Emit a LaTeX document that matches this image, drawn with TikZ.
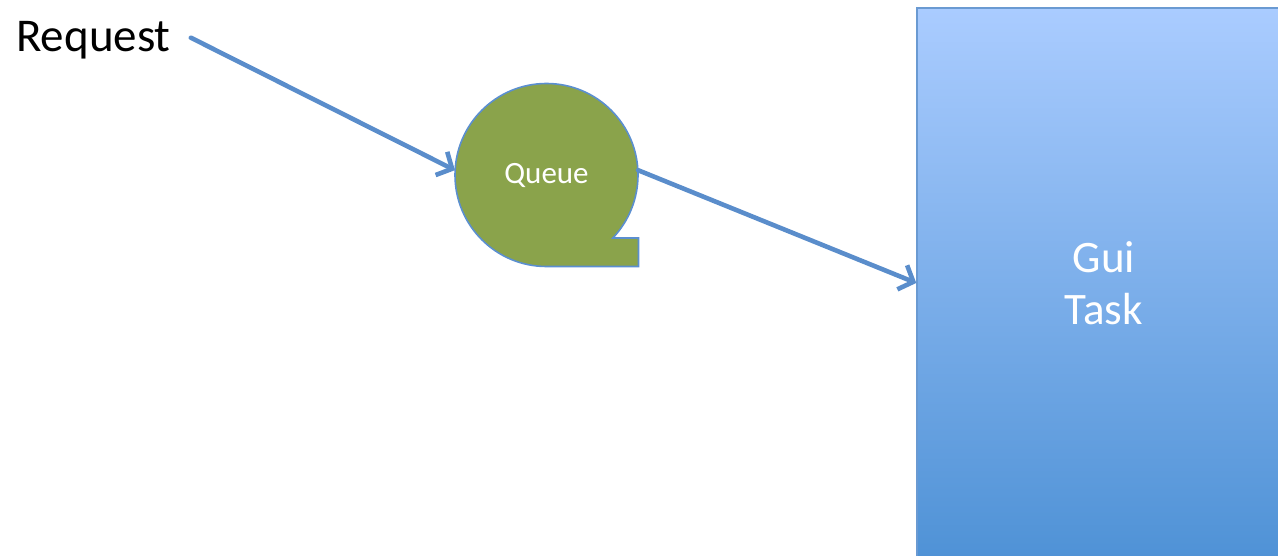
\documentclass[tikz,border=0pt]{standalone}
\usepackage{fontspec}
\setmainfont{Carlito}
\usetikzlibrary{arrows.meta}
\definecolor{conn}{HTML}{5A8DCB}
\definecolor{qfill}{HTML}{8AA34B}
\definecolor{qline}{HTML}{5B8FD0}
\definecolor{boxtop}{HTML}{AACCFF}
\definecolor{boxbot}{HTML}{4F92D6}
\definecolor{boxline}{HTML}{6A9AD2}
\tikzset{
  flowarrow/.style={draw=conn, line width=4.6pt, line cap=round,
    -{Straight Barb[length=12pt,width=26pt,line width=4.6pt]}},
  queueshape/.style={fill=qfill, draw=qline, line width=1.6pt, line join=miter},
  lbl/.style={inner sep=0pt, text=black},
}
\begin{document}
\begin{tikzpicture}[x=1pt,y=-1pt]
\useasboundingbox (0,0) rectangle (1278,556);
\clip (0,0) rectangle (1278,556);
% Gui Task box
\node[draw=boxline, line width=1.5pt, top color=boxtop, bottom color=boxbot,
      minimum width=374pt, minimum height=550pt, inner sep=0pt,
      text=white, align=center, font=\fontsize{45}{52}\selectfont]
      (gui) at (1104,283) {Gui\\Task};
% Queue shape
\path[queueshape] (546.5,266.5) arc[start angle=90, end angle=403.5, radius=91.5]
  -- (638.5,238) -- (638.5,266.5) -- cycle;
\node[circle, minimum size=183pt, inner sep=0pt, text=white,
      font=\fontsize{31}{36}\selectfont] (queue) at (546.5,175) {Queue};
% Request
\node[lbl, anchor=base west, font=\fontsize{47}{56}\selectfont] (request) at (16,52) {Request};
% connectors
\draw[flowarrow] ([shift={(20,-3)}]request.east) -- (queue.177);
\draw[flowarrow] (queue.3) -- (gui.west);
\end{tikzpicture}
\end{document}
